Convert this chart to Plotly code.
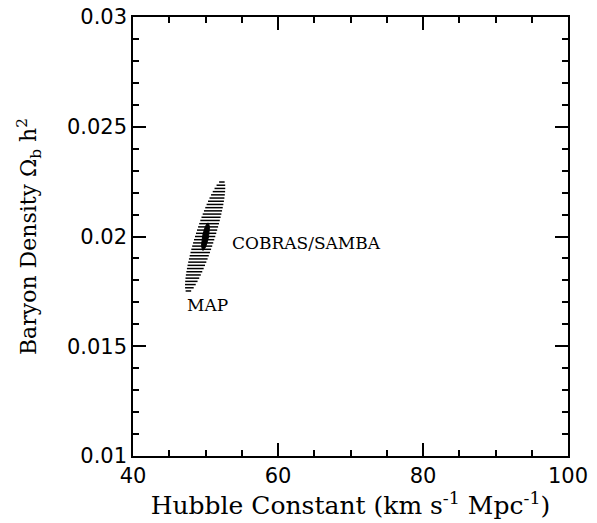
import numpy as np
import plotly.graph_objects as go

# ---- data ----
x_range = [40, 100]
y_range = [0.01, 0.03]
x_tickvals = [40, 60, 80, 100]
x_ticktext = ["40", "60", "80", "100"]
y_tickvals = [0.01, 0.015, 0.02, 0.025, 0.03]
y_ticktext = ["0.01", "0.015", "0.02", "0.025", "0.03"]

# hatched (larger) error ellipse: centre, half-height in y, shear dx/dy, half-width in x
big_center = [49.95, 0.02]
big_half_h = 0.00258
big_shear = 930.0
big_half_w = 1.4
hatch_step = 0.000146

# filled (smaller) error ellipse
small_center = [50.0, 0.01999]
small_half_h = 0.00062
small_shear = 560.0
small_half_w = 0.42

labels = ["COBRAS/SAMBA", "MAP"]
label_x = [53.35, 47.15]
label_y = [0.01969, 0.01687]

# ---- build marks ----
hx, hy = [], []
n = int(np.floor(big_half_h / hatch_step))
for k in range(-n, n + 1):
    dy = k * hatch_step
    frac = dy / big_half_h
    if abs(frac) >= 1:
        continue
    c = big_center[0] + big_shear * dy
    w = big_half_w * np.sqrt(1 - frac ** 2)
    yy = big_center[1] + dy
    hx += [c - w, c + w, None]
    hy += [yy, yy, None]

t = np.linspace(0, 2 * np.pi, 100)
sx = small_center[0] + small_shear * small_half_h * np.sin(t) + small_half_w * np.cos(t)
sy = small_center[1] + small_half_h * np.sin(t)

fig = go.Figure()
fig.add_trace(go.Scatter(x=hx, y=hy, mode="lines",
                         line=dict(color="black", width=1.5),
                         hoverinfo="skip", showlegend=False))
fig.add_trace(go.Scatter(x=sx, y=sy, mode="lines", fill="toself",
                         fillcolor="black", line=dict(color="black", width=1),
                         hoverinfo="skip", showlegend=False))

for txt, lx, ly in zip(labels, label_x, label_y):
    fig.add_annotation(x=lx, y=ly, text=txt, showarrow=False,
                       xanchor="left", yanchor="middle",
                       font=dict(family="DejaVu Serif", size=17, color="black"))

axis_common = dict(showgrid=False, zeroline=False, showline=True,
                   linecolor="black", linewidth=1.5, mirror="ticks",
                   ticks="inside", ticklen=13, tickwidth=1.5, tickcolor="black",
                   automargin=False, ticklabeloverflow="allow",
                   tickfont=dict(family="DejaVu Sans", size=21, color="black"))

fig.update_xaxes(range=x_range, tickvals=x_tickvals, ticktext=x_ticktext,
                 minor=dict(dtick=5, tick0=40, ticks="inside", ticklen=6,
                            tickwidth=1.5, tickcolor="black"),
                 title=dict(text="Hubble Constant (km s<sup>-1</sup> Mpc<sup>-1</sup>)",
                            font=dict(family="DejaVu Serif", size=25, color="black"),
                            standoff=6),
                 **axis_common)
fig.update_yaxes(range=y_range, tickvals=y_tickvals, ticktext=y_ticktext,
                 minor=dict(dtick=0.001, tick0=0.01, ticks="inside", ticklen=6,
                            tickwidth=1.5, tickcolor="black"),
                 title=dict(text="Baryon Density Ω<sub>b</sub> h<sup>2</sup>",
                            font=dict(family="DejaVu Serif", size=22, color="black"),
                            standoff=24),
                 **axis_common)

fig.update_layout(width=597, height=523,
                  margin=dict(l=133, r=29, t=16.5, b=67, pad=0),
                  plot_bgcolor="white", paper_bgcolor="white",
                  showlegend=False)

fig.write_html("out.html",
               config={"displayModeBar": False},
               post_script="document.body.style.margin='0';document.body.style.overflow='hidden';")
